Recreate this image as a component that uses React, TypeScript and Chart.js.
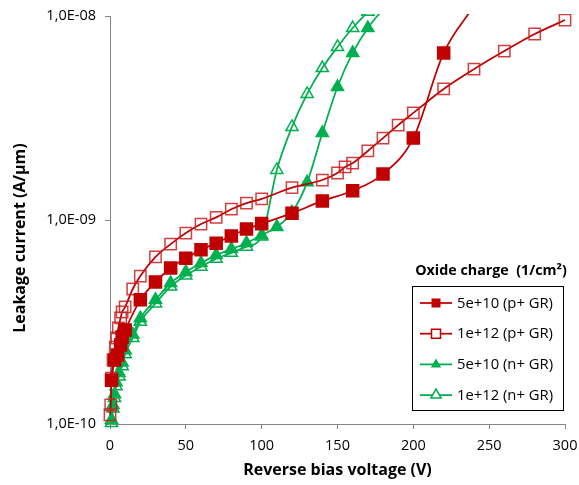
import React, { useEffect, useRef } from "react";
import { Chart, registerables } from "chart.js";

Chart.register(...registerables);

// ---- data ----
const seriesLabels = ["5e+10 (p+ GR)", "1e+12 (p+ GR)", "5e+10 (n+ GR)", "1e+12 (n+ GR)"];
const legendTitle = "Oxide charge  (1/cm²)";
const xTitle = "Reverse bias voltage (V)";
const yTitle = "Leakage current (A/µm)";

const pFilledV = [1, 3, 5, 7, 8, 10, 20, 30, 40, 50, 60, 70, 80, 90, 100, 120, 140, 160, 180, 200, 220, 240];
const pFilledI = [1.64e-10, 2.06e-10, 2.18e-10, 2.44e-10, 2.67e-10, 2.89e-10, 4.06e-10, 4.97e-10, 5.82e-10, 6.5e-10, 7.15e-10, 7.7e-10, 8.35e-10, 9.03e-10, 9.6e-10, 1.08e-9, 1.24e-9, 1.39e-9, 1.68e-9, 2.52e-9, 6.59e-9, 1.12e-8];

const pOpenV = [0, 0.5, 1, 2, 3.5, 4.5, 5.5, 7, 8, 10, 15, 20, 30, 40, 50, 60, 70, 80, 90, 100, 120, 140, 150, 155, 160, 170, 180, 190, 200, 220, 240, 260, 280, 300];
const pOpenI = [1.11e-10, 1.24e-10, 1.68e-10, 2.06e-10, 2.38e-10, 2.64e-10, 2.96e-10, 3.31e-10, 3.54e-10, 3.75e-10, 4.59e-10, 5.31e-10, 6.59e-10, 7.62e-10, 8.63e-10, 9.55e-10, 1.03e-9, 1.13e-9, 1.21e-9, 1.27e-9, 1.44e-9, 1.57e-9, 1.7e-9, 1.82e-9, 1.9e-9, 2.18e-9, 2.52e-9, 2.92e-9, 3.35e-9, 4.39e-9, 5.49e-9, 6.73e-9, 8.16e-9, 9.55e-9];

const nFilledV = [1, 2, 3, 4, 6, 8, 10, 15, 20, 30, 40, 50, 60, 70, 80, 90, 100, 110, 120, 130, 140, 150, 160, 170, 180];
const nFilledI = [1.05e-10, 1.24e-10, 1.4e-10, 1.6e-10, 1.78e-10, 2.0e-10, 2.3e-10, 2.75e-10, 3.3e-10, 4.06e-10, 4.91e-10, 5.56e-10, 6.15e-10, 6.73e-10, 7.2e-10, 7.71e-10, 8.43e-10, 9.24e-10, 1.09e-9, 1.53e-9, 2.67e-9, 4.49e-9, 6.59e-9, 8.73e-9, 1.08e-8];

const nOpenV = [1, 2, 3, 4, 6, 8, 10, 15, 20, 30, 40, 50, 60, 70, 80, 90, 100, 110, 120, 130, 140, 150, 160, 170];
const nOpenI = [1.01e-10, 1.19e-10, 1.34e-10, 1.53e-10, 1.71e-10, 1.92e-10, 2.2e-10, 2.64e-10, 3.17e-10, 3.9e-10, 4.72e-10, 5.34e-10, 5.9e-10, 6.46e-10, 6.9e-10, 7.4e-10, 8.3e-10, 1.76e-9, 2.86e-9, 4.15e-9, 5.56e-9, 7.05e-9, 8.73e-9, 1.05e-8];

const yTickValues = [1e-10, 1e-9, 1e-8];
const yTickLabels = ["1,0E-10", "1,0E-09", "1,0E-08"];
const xMin = 0;
const xMax = 300;
const xStep = 50;

const RED = "#C00000";
const GREEN = "#00B050";
const FONT = "'Open Sans'";

const toPts = (xs: number[], ys: number[]) => xs.map((x, i) => ({ x, y: ys[i] }));

const legendPlugin = {
  id: "boxLegend",
  afterDraw(chart: any) {
    const ctx = chart.ctx as CanvasRenderingContext2D;
    ctx.save();
    // y-axis title (centred on the whole figure height, as in the reference)
    ctx.save();
    ctx.translate(20, 238);
    ctx.rotate(-Math.PI / 2);
    ctx.fillStyle = "#000";
    ctx.font = `bold 16px ${FONT}`;
    ctx.textAlign = "center";
    ctx.textBaseline = "middle";
    ctx.fillText(yTitle, 0, 0);
    ctx.restore();

    ctx.fillStyle = "#000";
    ctx.font = `bold 14.3px ${FONT}`;
    ctx.textAlign = "center";
    ctx.textBaseline = "middle";
    ctx.fillText(legendTitle, 491, 271);
    ctx.strokeStyle = "#000";
    ctx.lineWidth = 1;
    ctx.strokeRect(412.5, 286.5, 151, 124);
    chart.data.datasets.forEach((ds: any, i: number) => {
      const y = 303 + i * 30.7;
      ctx.strokeStyle = ds.borderColor;
      ctx.lineWidth = 1.75;
      ctx.beginPath();
      ctx.moveTo(420, y);
      ctx.lineTo(452, y);
      ctx.stroke();
      const filled = ds.pointBackgroundColor !== "rgba(0,0,0,0)";
      ctx.fillStyle = ds.borderColor;
      ctx.lineWidth = 1.5;
      ctx.beginPath();
      if (ds.pointStyle === "rect") {
        ctx.rect(436 - 4.5, y - 4.5, 9, 9);
      } else {
        const r = 6;
        ctx.moveTo(436, y - r);
        ctx.lineTo(436 + r * 0.866, y + r * 0.5);
        ctx.lineTo(436 - r * 0.866, y + r * 0.5);
        ctx.closePath();
      }
      if (filled) ctx.fill();
      else {
        ctx.fillStyle = "#fff";
        ctx.fill();
        ctx.stroke();
      }
      ctx.fillStyle = "#000";
      ctx.font = `14.8px ${FONT}`;
      ctx.textAlign = "left";
      ctx.fillText(ds.label, 457, y + 0.5);
    });
    ctx.restore();
  },
};

export default function App() {
  const ref = useRef<HTMLCanvasElement | null>(null);
  useEffect(() => {
    if (!ref.current) return;
    const clip = { left: 12, top: 2, right: 12, bottom: 12 };
    const common = {
      borderWidth: 1.75,
      cubicInterpolationMode: "monotone",
      clip,
      pointBorderWidth: 1.5,
    };
    const chart = new Chart(ref.current, {
      type: "line",
      data: {
        datasets: [
          {
            ...common,
            label: seriesLabels[0],
            data: toPts(pFilledV, pFilledI),
            borderColor: RED,
            pointBackgroundColor: RED,
            pointBorderColor: RED,
            pointStyle: "rect",
            pointRadius: 8.5,
          },
          {
            ...common,
            label: seriesLabels[1],
            data: toPts(pOpenV, pOpenI),
            borderColor: RED,
            pointBackgroundColor: "rgba(0,0,0,0)",
            pointBorderColor: "rgba(200,30,30,0.85)",
            pointStyle: "rect",
            pointRadius: 8,
          },
          {
            ...common,
            label: seriesLabels[2],
            data: toPts(nFilledV, nFilledI),
            borderColor: GREEN,
            pointBackgroundColor: GREEN,
            pointBorderColor: GREEN,
            pointStyle: "triangle",
            pointRadius: 7,
          },
          {
            ...common,
            label: seriesLabels[3],
            data: toPts(nOpenV, nOpenI),
            borderColor: GREEN,
            pointBackgroundColor: "rgba(0,0,0,0)",
            pointBorderColor: GREEN,
            pointStyle: "triangle",
            pointRadius: 7,
          },
        ],
      } as any,
      options: {
        animation: false,
        responsive: false,
        layout: { padding: { left: 0, right: 14, top: 16, bottom: 0 } },
        plugins: { legend: { display: false }, tooltip: { enabled: false } },
        scales: {
          x: {
            type: "linear",
            min: xMin,
            max: xMax,
            ticks: { stepSize: xStep, color: "#000", font: { family: FONT, size: 14.5 }, padding: 8 },
            grid: { drawOnChartArea: false, drawTicks: true, tickLength: 5, color: "#868686" },
            border: { color: "#868686", width: 1 },
            title: { display: true, text: xTitle, color: "#000", font: { family: FONT, size: 16, weight: "bold" }, padding: { top: 0, bottom: 5 } },
            afterFit: (s: any) => { s.height = 61; s.paddingLeft = 0; s.paddingRight = 0; },
          },
          y: {
            type: "logarithmic",
            min: yTickValues[0],
            max: yTickValues[yTickValues.length - 1],
            afterBuildTicks: (s: any) => { s.ticks = yTickValues.map((v) => ({ value: v })); },
            ticks: {
              color: "#000",
              font: { family: FONT, size: 14.5 },
              padding: 9,
              callback: (v: any) => {
                const i = yTickValues.findIndex((t) => Math.abs(t - v) / t < 1e-6);
                return i >= 0 ? yTickLabels[i] : "";
              },
            },
            grid: { drawOnChartArea: false, drawTicks: true, tickLength: 5, color: "#868686" },
            border: { color: "#868686", width: 1 },
            title: { display: false },
            afterFit: (s: any) => { s.width = 110; s.paddingTop = 0; s.paddingBottom = 0; },
          },
        },
      } as any,
      plugins: [legendPlugin],
    });
    return () => chart.destroy();
  }, []);
  return (
    <div style={{ position: "absolute", left: 0, top: 0, width: 579, height: 485, background: "#fff" }}>
      <canvas ref={ref} width={579} height={485} />
    </div>
  );
}
